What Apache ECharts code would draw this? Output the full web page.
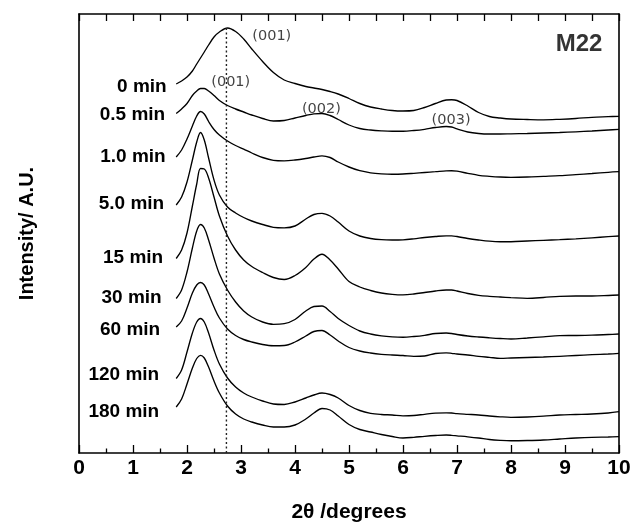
<!DOCTYPE html>
<html>
<head>
<meta charset="utf-8">
<script src="https://cdn.jsdelivr.net/npm/echarts@6/dist/echarts.min.js"></script>
<style>
  html, body { margin: 0; padding: 0; background: #fff; }
  #chart { width: 633px; height: 526px; }
</style>
</head>
<body>
<div id="chart"></div>
<script>
// 2-theta positions (degrees) shared by every scan
const twoTheta = [1.8, 1.9, 2.0, 2.1, 2.18, 2.25, 2.32, 2.4, 2.5, 2.6, 2.75, 2.9, 3.05, 3.2, 3.4, 3.6,
  3.8, 4.0, 4.2, 4.35, 4.5, 4.65, 4.8, 5.0, 5.2, 5.4, 5.6, 5.8, 6.0, 6.2, 6.4, 6.6, 6.8, 6.9, 7.0,
  7.2, 7.4, 7.6, 7.8, 8.0, 8.3, 8.6, 8.9, 9.2, 9.5, 9.8, 10.0];

// Stacked intensities (arbitrary units, offsets included), one array per reaction time
const scan0min = [369, 372, 376, 382, 389, 395, 401, 408, 416, 421, 425, 421.5, 414, 404, 391.5, 380.5,
  373, 369.5, 366.5, 365, 363.5, 361.5, 359, 354.5, 349.5, 346, 344, 342.5, 342, 342.5, 345.5, 349.5,
  353, 353.3, 352.5, 347, 340.5, 336.5, 335, 334, 333.5, 333.2, 333.7, 334.5, 335.7, 336.3, 336.7];
const scan05min = [339.5, 344, 349.5, 357.5, 362, 364.5, 364.5, 362, 357.5, 352.5, 347.5, 344, 341, 338, 334.5, 332,
  332.5, 335, 337.5, 339.2, 339.5, 337.5, 333.5, 328, 324.5, 323, 322.2, 321.8, 321.8, 322.5, 323.7, 325.5,
  326.5, 326, 324.2, 321, 319.5, 319, 319, 319.2, 319.5, 320, 320.5, 321.2, 322, 323, 323.7];
const scan1min = [296, 303, 314, 327, 337, 341.5, 339, 331.5, 323.5, 318, 312, 307.5, 303.8, 300, 295.5, 292.7,
  292.2, 293, 294.5, 296, 297.2, 295.5, 291, 286, 282.3, 280.2, 279.2, 278.8, 279, 279.7, 280.5, 281.3,
  282.2, 282.3, 281.8, 279.7, 277.7, 276.7, 276, 275.7, 276, 276.7, 277.4, 278.4, 279.5, 280.7, 281.3];
const scan5min = [248, 256, 271, 293, 311, 320.5, 313, 295, 273, 258, 246, 240, 235.5, 232, 228.5, 225.7,
  225.2, 227, 234, 238.5, 239.7, 237, 231, 222, 217, 214.5, 213.3, 213, 213.2, 214.2, 215.5, 216.5,
  217.2, 217.2, 216.5, 214.5, 213, 211.8, 211.3, 211.3, 212, 212.7, 213.4, 214.2, 215.2, 216.3, 217];
const scan15min = [194.5, 203, 220, 247, 269, 284.5, 284, 275, 256, 237, 217, 203, 193, 186.5, 180.5, 175.5,
  173.5, 177.5, 185.5, 194, 198.8, 193, 184, 171.5, 166, 162.5, 160, 158.7, 158.2, 159, 160.5, 162,
  163, 163, 162, 159.5, 157.7, 156.7, 156, 155.4, 154.7, 155.5, 156.7, 157, 157, 157.5, 158];
const scan30min = [154.5, 163, 181, 205, 222, 228.5, 225, 213, 195, 179, 163, 151, 142, 136, 131, 128.7,
  129.3, 133.5, 142, 146.5, 147, 141.5, 134.5, 127.5, 122, 119, 117.2, 116.2, 115.8, 116.5, 117.7, 119.5,
  120, 119.5, 118.5, 117, 116, 115.2, 114.5, 114, 115, 116.2, 117.4, 117.5, 117.8, 118.5, 119];
const scan60min = [126, 132, 145, 160, 168, 170.5, 168, 159, 146, 135, 124, 117.5, 113.5, 111, 108.5, 107.3,
  107.5, 111, 117, 121.5, 122.5, 118, 112, 105.5, 102, 100, 98.7, 98, 97.5, 96.7, 97, 99.5,
  100.2, 99.7, 99, 98, 96.7, 95.7, 94.7, 95, 95.5, 96, 96.7, 97.5, 98.3, 99, 99.7];
const scan120min = [74.5, 83, 101, 120, 131, 134.5, 131, 120, 103, 89, 75, 66, 60, 56, 52, 49,
  48.5, 51, 55, 58, 60, 58.5, 55, 47.5, 42.5, 39.7, 38.5, 38, 37.2, 37.5, 38.7, 39.8,
  40.2, 40, 39.4, 38.7, 38, 37, 36.2, 35.7, 36, 36.8, 38, 38.5, 39, 40, 41.3];
const scan180min = [46, 54, 69, 85, 94.5, 97.7, 95, 86, 72, 60, 47, 39, 34, 31, 28, 26,
  26, 28, 34, 40, 44.5, 43, 37, 28.5, 23.5, 21, 18.5, 16.5, 15, 15.7, 16.7, 17.5,
  18, 17.7, 17.2, 16.2, 15, 13.5, 12.7, 12.3, 12.5, 13, 14, 15, 15.7, 16, 16.3];

const timeLabels = ['0 min', '0.5 min', '1.0 min', '5.0 min', '15 min', '30 min', '60 min', '120 min', '180 min'];
const scans = [scan0min, scan05min, scan1min, scan5min, scan15min, scan30min, scan60min, scan120min, scan180min];

// Reflection labels: [2theta, intensity, text]
const reflections = [
  [3.57, 417, '(001)'],
  [2.81, 371, '(001)'],
  [4.49, 344, '(002)'],
  [6.89, 333, '(003)']
];
const sampleName = 'M22';
const refLine = [[2.73, 0], [2.73, 426]];

// label placement for the time labels next to each scan start
const labelGap = [9.5, 11, 10.5, 12, 13, 14.5, 16, 17, 17];
const labelShift = [3, 1.5, 0, -1, -1, -1, 3, -3.5, 4.7];

const FONT = 'Liberation Sans, Arial, Helvetica, sans-serif';
const axisLine = { show: true, onZero: false, lineStyle: { color: '#000', width: 1.6 } };

const series = scans.map((vals, i) => ({
  type: 'line',
  data: twoTheta.map((x, j) => [x, vals[j]]),
  symbol: 'none',
  smooth: 0.35,
  lineStyle: { color: '#000', width: 1.35 },
  silent: true,
  markPoint: {
    symbol: 'circle',
    symbolSize: 0,
    silent: true,
    data: [{
      coord: [twoTheta[0], vals[0]],
      label: {
        show: true,
        position: 'left',
        distance: labelGap[i],
        offset: [0, labelShift[i]],
        formatter: timeLabels[i],
        color: '#000',
        fontFamily: FONT,
        fontWeight: 'bold',
        fontSize: 19
      }
    }]
  }
}));

// dotted reference line at the initial (001) position
series.push({
  type: 'line',
  data: refLine,
  symbol: 'none',
  silent: true,
  lineStyle: { color: '#222', width: 1.4, type: [2, 2.5] }
});

// reflection indices and sample name as text marks
series.push({
  type: 'scatter',
  symbolSize: 0,
  silent: true,
  data: reflections.map(r => ({
    value: [r[0], r[1]],
    label: {
      show: true, position: 'inside', formatter: r[2],
      color: '#111', fontFamily: 'DejaVu Sans, sans-serif', fontSize: 14.5
    }
  })).concat([{
    value: [9.26, 409],
    label: {
      show: true, position: 'inside', formatter: sampleName,
      color: '#000', fontFamily: FONT, fontWeight: 'bold', fontSize: 24
    }
  }])
});

const chart = echarts.init(document.getElementById('chart'), null, { renderer: 'canvas' });
chart.setOption({
  animation: false,
  backgroundColor: '#fff',
  grid: { left: 79, right: 14, top: 14, bottom: 73, outerBoundsMode: 'none', containLabel: false },
  xAxis: [
    {
      type: 'value', min: 0, max: 10, interval: 1, position: 'bottom',
      axisLine: axisLine,
      axisTick: { show: true, inside: true, length: 8, lineStyle: { color: '#000', width: 1.3 } },
      minorTick: { show: true, splitNumber: 2, length: 4.5, lineStyle: { color: '#000', width: 1.3 } },
      axisLabel: { color: '#000', fontSize: 21, fontWeight: 'bold', fontFamily: FONT, margin: 5 },
      splitLine: { show: false },
      minorSplitLine: { show: false },
      name: '2θ /degrees', nameLocation: 'middle', nameGap: 49,
      nameTextStyle: { color: '#000', fontSize: 21, fontWeight: 'bold', fontFamily: FONT }
    },
    {
      type: 'value', min: 0, max: 10, interval: 0.5, position: 'top',
      axisLine: axisLine,
      axisTick: { show: true, inside: true, length: 7, lineStyle: { color: '#000', width: 1.3 } },
      axisLabel: { show: false },
      splitLine: { show: false }
    }
  ],
  yAxis: [
    {
      type: 'value', min: 0, max: 439, position: 'left',
      axisLine: axisLine, axisTick: { show: false }, axisLabel: { show: false }, splitLine: { show: false },
      name: 'Intensity/ A.U.', nameLocation: 'middle', nameGap: 42, nameRotate: 90,
      nameTextStyle: { color: '#000', fontSize: 20, fontWeight: 'bold', fontFamily: FONT }
    },
    {
      type: 'value', min: 0, max: 439, position: 'right',
      axisLine: axisLine, axisTick: { show: false }, axisLabel: { show: false }, splitLine: { show: false }
    }
  ],
  series: series
});
</script>
</body>
</html>
